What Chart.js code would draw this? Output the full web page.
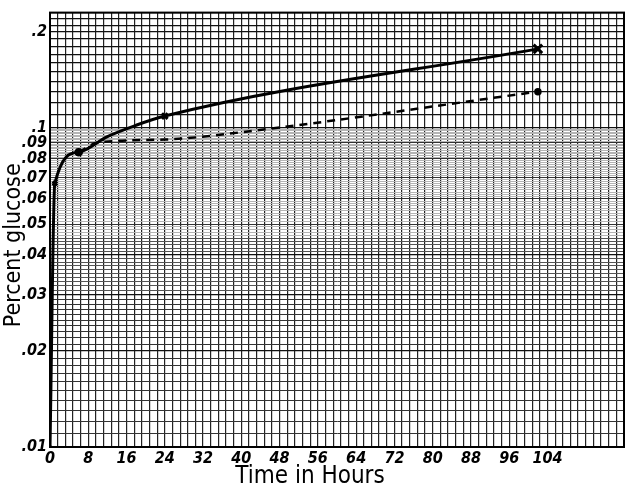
<!DOCTYPE html>
<html>
<head>
<meta charset="utf-8">
<script src="https://cdn.jsdelivr.net/npm/chart.js@4"></script>
<style>
  html, body { margin: 0; padding: 0; background: #fff; }
  #wrap { width: 633px; height: 492px; }
</style>
</head>
<body>
<div id="wrap"><canvas id="glucoseChart" width="633" height="492"></canvas></div>
<script>
// Values (hours, percent glucose)
const solidHours = [0, 1, 6, 12, 18, 24, 102];
const solidGlucose = [0.01, 0.067, 0.084, 0.094, 0.102, 0.109, 0.177];

const dashedHours = [6, 10, 24, 40, 102];
const dashedGlucose = [0.084, 0.09, 0.092, 0.097, 0.13];

const xTickLabels = ["0", "8", "16", "24", "32", "40", "48", "56", "64", "72", "80", "88", "96", "104"];
const yTickValues = [0.01, 0.02, 0.03, 0.04, 0.05, 0.06, 0.07, 0.08, 0.09, 0.1, 0.2];
const yTickLabels = [".01", ".02", ".03", ".04", ".05", ".06", ".07", ".08", ".09", ".1", ".2"];

const X_MAX = 120;
const Y_MIN = 0.01;
const Y_MAX = 0.23;

// graph paper lines for the log axis
function paperLines() {
    const out = [];
    for (let i = 10; i <= 100; i++) out.push(i / 1000);
    for (let i = 11; i <= 23; i++) out.push(i / 100);
    return out;
}

function near(a, b) { return Math.abs(a - b) < 1e-7; }

const frame = {
    id: "frame",
    beforeDatasetsDraw(chart) {
        const { ctx, chartArea: a } = chart;
        ctx.save();
        ctx.strokeStyle = "#000";
        ctx.lineWidth = 2;
        ctx.strokeRect(a.left, a.top, a.right - a.left, a.bottom - a.top);
        ctx.restore();
    }
};

const font = "'DejaVu Sans Condensed', 'DejaVu Sans', sans-serif";

new Chart(document.getElementById("glucoseChart"), {
    type: "line",
    data: {
        datasets: [{
            label: "solid",
            data: solidHours.map((h, i) => ({ x: h, y: solidGlucose[i] })),
            borderColor: "#000",
            borderWidth: 3,
            cubicInterpolationMode: "monotone",
            pointStyle: "crossRot",
            pointRadius: [2, 3, 4, 0, 0, 4, 6],
            pointBorderWidth: 3,
            pointBorderColor: "#000",
            pointBackgroundColor: "#000"
        }, {
            label: "dashed",
            data: dashedHours.map((h, i) => ({ x: h, y: dashedGlucose[i] })),
            borderColor: "#000",
            borderWidth: 2.5,
            borderDash: [8, 6],
            cubicInterpolationMode: "monotone",
            pointStyle: "circle",
            pointRadius: [3, 0, 0, 0, 2.5],
            pointBorderColor: "#000",
            pointBackgroundColor: "#000"
        }]
    },
    options: {
        responsive: false,
        animation: false,
        layout: { padding: { top: 8, right: 8, left: 0, bottom: 0 } },
        plugins: {
            legend: { display: false },
            tooltip: { enabled: false }
        },
        scales: {
            x: {
                type: "linear",
                min: 0,
                max: X_MAX,
                afterFit(scale) { scale.height = 45; },
                ticks: {
                    stepSize: 1.6,
                    autoSkip: false,
                    maxRotation: 0,
                    padding: 2,
                    color: "#000",
                    font: { family: font, size: 16, style: "italic", weight: "bold" },
                    callback(v) {
                        const k = v / 8;
                        if (near(k, Math.round(k)) && Math.round(k) < xTickLabels.length) return xTickLabels[Math.round(k)];
                        return "";
                    }
                },
                grid: {
                    drawTicks: false,
                    color: "#222",
                    lineWidth: 1.2
                },
                border: { color: "#000", width: 2 },
                title: {
                    display: true,
                    text: "Time in Hours" + "\u2002".repeat(5),
                    color: "#000",
                    padding: { top: 0, bottom: 1 },
                    font: { family: font, size: 24 }
                }
            },
            y: {
                type: "logarithmic",
                min: Y_MIN,
                max: Y_MAX,
                afterFit(scale) { scale.width = 50; },
                afterBuildTicks(scale) {
                    scale.ticks = paperLines().map(v => ({ value: v }));
                },
                ticks: {
                    autoSkip: false,
                    padding: 3,
                    color: "#000",
                    font: { family: font, size: 16, style: "italic", weight: "bold" },
                    callback(v) {
                        const i = yTickValues.findIndex(t => near(t, v));
                        return i >= 0 ? yTickLabels[i] : "";
                    }
                },
                grid: {
                    drawTicks: false,
                    color: ctx => {
                        const v = ctx.tick ? ctx.tick.value : 0;
                        const major = near(v * 100, Math.round(v * 100));
                        if (v > 0.045 && v < 0.1) return major ? "#333" : "#b4b4b4";
                        if (major) return "#111";
                        if (v >= 0.03) return "#555";
                        return "#333";
                    },
                    lineWidth: ctx => {
                        const v = ctx.tick ? ctx.tick.value : 0;
                        if (v > 0.045 && v < 0.1) return 1;
                        return near(v * 100, Math.round(v * 100)) ? 1.2 : 1;
                    }
                },
                border: { color: "#000", width: 2 },
                title: {
                    display: true,
                    text: "Percent glucose" + "\u2002".repeat(3),
                    color: "#000",
                    padding: { top: 0, bottom: 0 },
                    font: { family: font, size: 23 }
                }
            }
        }
    },
    plugins: [frame]
});
</script>
</body>
</html>
